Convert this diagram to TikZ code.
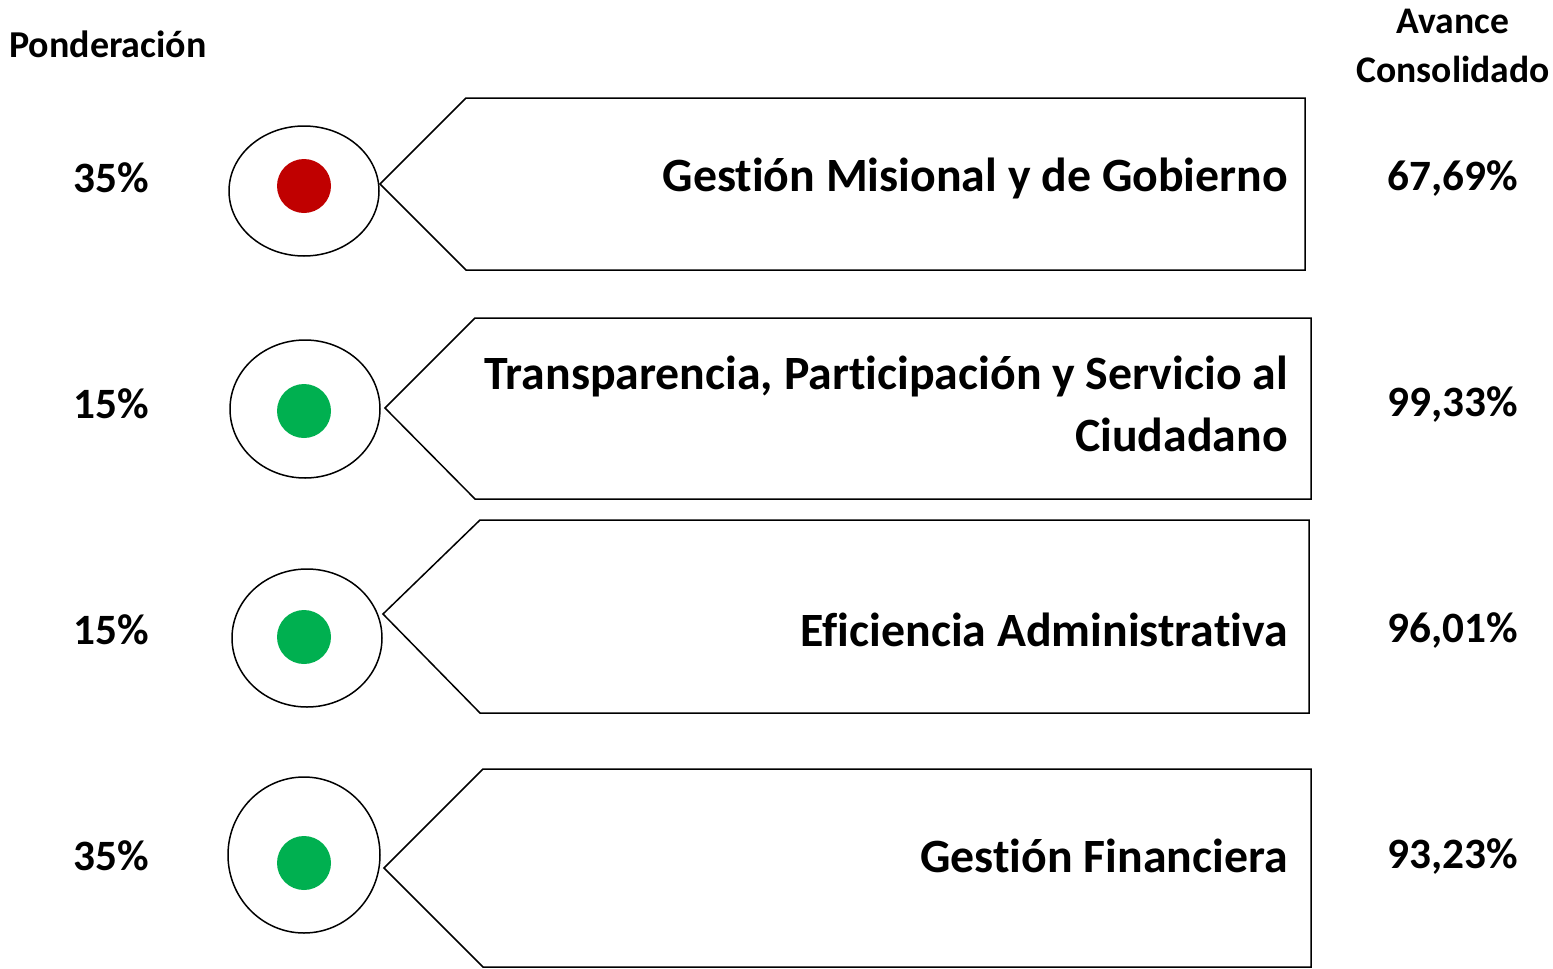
\documentclass[tikz,border=0pt]{standalone}
\usepackage{fontspec}
\setmainfont[Ligatures=NoCommon]{Carlito}
\usetikzlibrary{shapes.geometric}
\definecolor{dred}{RGB}{192,0,0}
\definecolor{dgreen}{RGB}{0,176,80}
\begin{document}
\begin{tikzpicture}[x=1pt,y=-1pt,
  ring/.style={draw=black,line width=1.5pt,fill=white,ellipse,inner sep=0pt},
  dot/.style={circle,inner sep=0pt,minimum size=54pt},
  tag/.style={draw=black,line width=1.5pt,line join=miter},
  lbl/.style={font=\bfseries\fontsize{47.8}{62}\selectfont,anchor=east,align=right,inner sep=0pt},
  pct/.style={font=\bfseries\fontsize{43.3}{50}\selectfont,inner sep=0pt},
  hdr/.style={font=\bfseries\fontsize{38}{49}\selectfont,inner sep=0pt,align=center}]
\useasboundingbox (0,0) rectangle (1553,969);
% headers
\node[hdr] (hp) at (108,44) {Ponderación};
\node[hdr,font=\bfseries\fontsize{37.6}{49}\selectfont] (ha) at (1453,46) {Avance\\Consolidado};
% row 1
\draw[tag] (380,184) -- (466,98) -- (1305,98) -- (1305,270) -- (466,270) -- cycle;
\node[ring,minimum width=150pt,minimum height=130pt] (e1) at (304,191) {};
\node[dot,fill=dred] (d1) at (304,186) {};
\node[lbl] (l1) at (1288,178) {Gestión Misional y de Gobierno};
\node[pct] (p1) at (111,178) {35\%};
\node[pct] (a1) at (1453,178) {67,69\%};
% row 2
\draw[tag] (385,408) -- (475,318) -- (1311,318) -- (1311,499) -- (475,499) -- cycle;
\node[ring,minimum width=150pt,minimum height=138pt] (e2) at (305,409) {};
\node[dot,fill=dgreen] (d2) at (304,411) {};
\node[lbl] (l2) at (1288,404) {Transparencia, Participación y Servicio al\\Ciudadano};
\node[pct] (p2) at (111,404) {15\%};
\node[pct] (a2) at (1453,404) {99,33\%};
% row 3
\draw[tag] (383,614) -- (480,520) -- (1309,520) -- (1309,713) -- (480,713) -- cycle;
\node[ring,minimum width=150pt,minimum height=138pt] (e3) at (307,638) {};
\node[dot,fill=dgreen] (d3) at (304,637) {};
\node[lbl] (l3) at (1288,630) {Eficiencia Administrativa};
\node[pct] (p3) at (111,630) {15\%};
\node[pct] (a3) at (1453,630) {96,01\%};
% row 4
\draw[tag] (384,868) -- (483,769) -- (1311,769) -- (1311,967) -- (483,967) -- cycle;
\node[ring,minimum width=152pt,minimum height=156pt] (e4) at (304,855) {};
\node[dot,fill=dgreen] (d4) at (304,863) {};
\node[lbl] (l4) at (1288,856) {Gestión Financiera};
\node[pct] (p4) at (111,856) {35\%};
\node[pct] (a4) at (1453,856) {93,23\%};
\end{tikzpicture}
\end{document}
